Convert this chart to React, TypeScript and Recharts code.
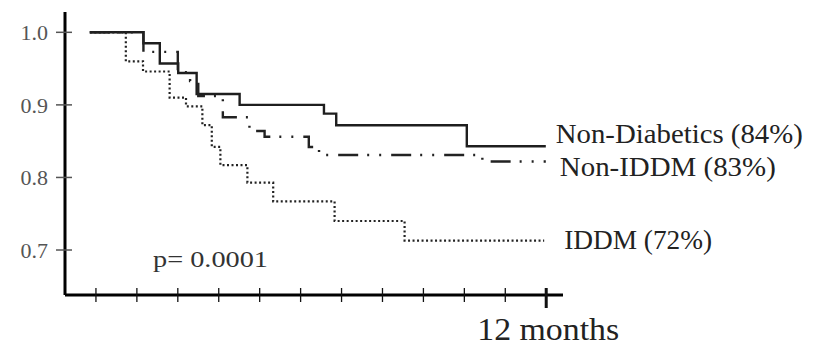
import { LabelList, Line, LineChart, XAxis, YAxis } from 'recharts'

const nonDiabeticsMonths = [0.85, 2.16, 2.56, 3.01, 3.46, 4.51, 6.57, 6.87, 10.06, 11.99]
const nonDiabeticsSurvival = [1.0, 0.985, 0.957, 0.944, 0.915, 0.9, 0.888, 0.872, 0.843, 0.843]

const nonIddmMonths = [0.85, 2.16, 3.0, 3.3, 3.5, 4.1, 4.75, 5.12, 6.2, 6.45, 10.44, 11.99]
const nonIddmSurvival = [1.0, 0.973, 0.945, 0.933, 0.912, 0.883, 0.864, 0.856, 0.842, 0.831, 0.822, 0.822]

const iddmMonths = [0.85, 1.73, 2.15, 2.8, 3.2, 3.6, 3.83, 4.04, 4.7, 5.33, 6.83, 8.54, 11.95]
const iddmSurvival = [1.0, 0.96, 0.946, 0.91, 0.898, 0.872, 0.842, 0.817, 0.793, 0.767, 0.74, 0.713, 0.713]

const monthTicks = [1, 2, 3, 4, 5, 6, 7, 8, 9, 10, 11, 12]
const survivalTicks = [0.7, 0.8, 0.9, 1.0]

const labels = {
  nonDiabetics: 'Non-Diabetics (84%)',
  nonIddm: 'Non-IDDM (83%)',
  iddm: 'IDDM (72%)',
  pValue: 'p= 0.0001',
  months: '12 months',
}

const toPoints = (months: number[], survival: number[]) =>
  months.map((m, i) => ({ m, s: survival[i] }))

const serif = '"Liberation Serif", "DejaVu Serif", serif'

function endLabel(text: string, count: number, dx: number, dy: number, width: number) {
  return (props: any) => {
    if (props.index !== count - 1) return null
    return (
      <text
        x={props.x + dx}
        y={props.y + dy}
        fontFamily={serif}
        fontSize={27}
        fill="#222"
        textLength={width}
        lengthAdjust="spacingAndGlyphs"
      >
        {text}
      </text>
    )
  }
}

function MonthTick({ x, y, payload }: any) {
  const last = payload.value === 12
  return (
    <g>
      <line
        x1={x}
        x2={x}
        y1={y - 7}
        y2={last ? y + 13 : y + 7}
        stroke="#111"
        strokeWidth={last ? 3 : 1.3}
      />
      {last && (
        <text
          x={x - 69}
          y={y + 45}
          fontFamily={serif}
          fontSize={31}
          fill="#222"
          textLength={142}
          lengthAdjust="spacingAndGlyphs"
        >
          {labels.months}
        </text>
      )}
    </g>
  )
}

function SurvivalTick({ x, y, payload }: any) {
  return (
    <g>
      <line x1={x - 9} x2={x + 7} y1={y} y2={y} stroke="#555" strokeWidth={1.5} />
      <text x={x - 17} y={y + 8} textAnchor="end" fontFamily={serif} fontSize={22} fill="#555">
        {payload.value.toFixed(1)}
      </text>
    </g>
  )
}

export default function App() {
  return (
    <div style={{ position: 'absolute', left: 0, top: 0, background: '#fff' }}>
      <LineChart
        width={818}
        height={347}
        margin={{ top: 12, right: 255, bottom: 51, left: 64 }}
      >
        <XAxis
          dataKey="m"
          type="number"
          domain={[0.244, 12.41]}
          ticks={monthTicks}
          allowDataOverflow
          height={1}
          tickSize={0}
          tickMargin={0}
          tick={<MonthTick />}
          axisLine={{ stroke: '#000', strokeWidth: 3 }}
          interval={0}
        />
        <YAxis
          type="number"
          domain={[0.638, 1.028]}
          ticks={survivalTicks}
          allowDataOverflow
          width={1}
          tickSize={0}
          tickMargin={0}
          tick={<SurvivalTick />}
          axisLine={{ stroke: '#000', strokeWidth: 3 }}
          interval={0}
        />
        <Line
          data={toPoints(nonDiabeticsMonths, nonDiabeticsSurvival)}
          dataKey="s"
          type="stepAfter"
          stroke="#1e1e1e"
          strokeWidth={2.4}
          dot={false}
          isAnimationActive={false}
        >
          <LabelList
            dataKey="s"
            content={endLabel(labels.nonDiabetics, nonDiabeticsMonths.length, 10, -3, 247)}
          />
        </Line>
        <Line
          data={toPoints(nonIddmMonths, nonIddmSurvival)}
          dataKey="s"
          type="stepAfter"
          stroke="#222"
          strokeWidth={2.4}
          strokeDasharray="20 9 2 10 2 10"
          dot={false}
          isAnimationActive={false}
        >
          <LabelList
            dataKey="s"
            content={endLabel(labels.nonIddm, nonIddmMonths.length, 14, 15, 216)}
          />
        </Line>
        <Line
          data={toPoints(iddmMonths, iddmSurvival)}
          dataKey="s"
          type="stepAfter"
          stroke="#222"
          strokeWidth={2.2}
          strokeDasharray="2 2.5"
          dot={false}
          isAnimationActive={false}
        >
          <LabelList
            dataKey="s"
            content={endLabel(labels.iddm, iddmMonths.length, 20, 8, 148)}
          />
        </Line>
        <text
          x={153}
          y={267}
          fontFamily={serif}
          fontSize={23}
          fill="#333"
          textLength={115}
          lengthAdjust="spacingAndGlyphs"
        >
          {labels.pValue}
        </text>
      </LineChart>
    </div>
  )
}
